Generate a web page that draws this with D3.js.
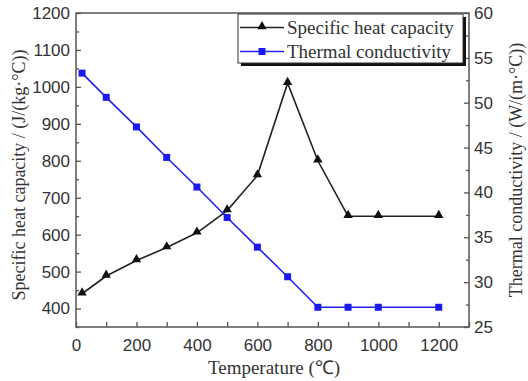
<!DOCTYPE html>
<html><head><meta charset="utf-8">
<script src="https://cdn.jsdelivr.net/npm/d3@7"></script>
<style>body{margin:0;background:#fff}svg{display:block}</style>
</head><body>
<svg id="chart" width="528" height="381"></svg>
<script>
const temperatures = [20, 100, 200, 300, 400, 500, 600, 700, 800, 900, 1000, 1200];
const specificHeat = [440, 488, 530, 565, 605, 665, 760, 1010, 800, 650, 650, 650];
const thermalCond = [53.3, 50.6, 47.3, 43.9, 40.6, 37.2, 33.9, 30.6, 27.2, 27.2, 27.2, 27.2];
const xTicks = [0, 200, 400, 600, 800, 1000, 1200];
const leftTicks = [400, 500, 600, 700, 800, 900, 1000, 1100, 1200];
const rightTicks = [25, 30, 35, 40, 45, 50, 55, 60];
const seriesNames = ["Specific heat capacity", "Thermal conductivity"];

const svg = d3.select("#chart");
const L = 76, R = 469, T = 13, B = 327;
const x = d3.scaleLinear().domain([0, 1300]).range([L, R]);
const yL = d3.scaleLinear().domain([350, 1200]).range([B, T]);
const yR = d3.scaleLinear().domain([25, 60]).range([B, T]);
const axisCol = "#555";
const tickFont = "'Liberation Sans', Arial, sans-serif";
const serif = "'Liberation Serif', 'Times New Roman', serif";

// frame
svg.append("rect").attr("x", L).attr("y", T).attr("width", R - L).attr("height", B - T)
  .attr("fill", "none").attr("stroke", axisCol).attr("stroke-width", 1.5);

// bottom axis (ticks inward)
const gx = svg.append("g").attr("transform", `translate(0,${B})`)
  .call(d3.axisBottom(x).tickValues(d3.range(0, 1301, 100)).tickSize(-5).tickPadding(12)
    .tickFormat(d => xTicks.includes(d) ? d : ""));
// left axis
const gl = svg.append("g").attr("transform", `translate(${L},0)`)
  .call(d3.axisLeft(yL).tickValues(d3.range(350, 1201, 50)).tickSize(-5).tickPadding(6)
    .tickFormat(d => leftTicks.includes(d) ? d : ""));
// right axis
const gr = svg.append("g").attr("transform", `translate(${R},0)`)
  .call(d3.axisRight(yR).tickValues(d3.range(25, 60.01, 2.5)).tickSize(-5).tickPadding(5)
    .tickFormat(d => rightTicks.includes(d) ? d : ""));

[gx, gl, gr].forEach(g => {
  g.select(".domain").remove();
  g.selectAll(".tick line").attr("stroke", axisCol).attr("stroke-width", 1.3);
  g.selectAll(".tick text").attr("font-family", tickFont).attr("font-size", 17).attr("fill", "#333");
});
// minor ticks shorter
gl.selectAll(".tick line").attr("x2", d => leftTicks.includes(d) ? 5 : 3);
gr.selectAll(".tick line").attr("x2", d => rightTicks.includes(d) ? -5 : -3);
gx.selectAll(".tick text").attr("dy", "0.71em");

// lines
const lineH = d3.line().x((d, i) => x(temperatures[i])).y(d => yL(d));
const lineK = d3.line().x((d, i) => x(temperatures[i])).y(d => yR(d));
svg.append("path").datum(specificHeat).attr("d", lineH).attr("fill", "none")
  .attr("stroke", "#222").attr("stroke-width", 1.6);
svg.append("path").datum(thermalCond).attr("d", lineK).attr("fill", "none")
  .attr("stroke", "#2222ee").attr("stroke-width", 1.6);

const tri = d3.symbol().type(d3.symbolTriangle).size(38);
svg.selectAll(".tri").data(specificHeat).join("path")
  .attr("d", tri).attr("transform", (d, i) => `translate(${x(temperatures[i])},${yL(d) - 1})`)
  .attr("fill", "#111");
svg.selectAll(".sq").data(thermalCond).join("rect")
  .attr("x", (d, i) => x(temperatures[i]) - 3.5).attr("y", d => yR(d) - 3.5)
  .attr("width", 7).attr("height", 7).attr("fill", "#1a1aee");

// legend
const lg = svg.append("g");
lg.append("rect").attr("x", 241).attr("y", 17).attr("width", 225).attr("height", 49).attr("fill", "#111");
lg.append("rect").attr("x", 238).attr("y", 14).attr("width", 225).attr("height", 49)
  .attr("fill", "#fff").attr("stroke", "#333").attr("stroke-width", 1);
const rows = [27.5, 51.5];
lg.append("line").attr("x1", 240).attr("x2", 284).attr("y1", rows[0]).attr("y2", rows[0]).attr("stroke", "#222").attr("stroke-width", 1.6);
lg.append("path").attr("d", tri).attr("transform", `translate(262,${rows[0] - 1})`).attr("fill", "#111");
lg.append("line").attr("x1", 240).attr("x2", 284).attr("y1", rows[1]).attr("y2", rows[1]).attr("stroke", "#2222ee").attr("stroke-width", 1.6);
lg.append("rect").attr("x", 258.5).attr("y", rows[1] - 3.5).attr("width", 7).attr("height", 7).attr("fill", "#1a1aee");
seriesNames.forEach((n, i) => {
  lg.append("text").attr("x", 287).attr("y", rows[i]).attr("dy", "0.35em")
    .attr("font-family", serif).attr("font-size", 19).attr("fill", "#333").text(n);
});

// axis titles
svg.append("text").attr("x", 274).attr("y", 374).attr("text-anchor", "middle")
  .attr("font-family", serif).attr("font-size", 19).attr("fill", "#333").text("Temperature (℃)");
svg.append("text").attr("transform", "translate(25,175) rotate(-90)").attr("text-anchor", "middle")
  .attr("font-family", serif).attr("font-size", 18).attr("fill", "#333")
  .text("Specific heat capacity / (J/(kg·°C))");
svg.append("text").attr("transform", "translate(522,170) rotate(-90)").attr("text-anchor", "middle")
  .attr("font-family", serif).attr("font-size", 18).attr("fill", "#333")
  .text("Thermal conductivity / (W/(m·°C))");
</script>
</body></html>
